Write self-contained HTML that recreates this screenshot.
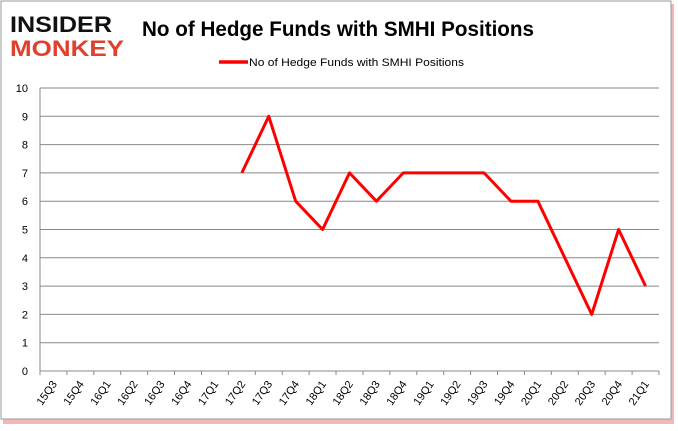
<!DOCTYPE html>
<html><head><meta charset="utf-8"><style>
body{margin:0;background:#fff;font-family:"Liberation Sans",sans-serif;}
svg{display:block}
</style></head><body>
<svg width="678" height="431" xmlns="http://www.w3.org/2000/svg">
<rect x="0" y="0" width="678" height="431" fill="#fff"/>
<rect x="3" y="4" width="671" height="420" fill="#f2b8b8"/>
<rect x="1" y="1" width="670" height="418" fill="#fff" stroke="#999"/>
<g font-family="Liberation Sans, sans-serif" font-weight="bold">
<text x="10" y="32" font-size="22" fill="#111" textLength="102" lengthAdjust="spacingAndGlyphs">INSIDER</text>
<text x="10" y="56" font-size="22" fill="#e0402e" textLength="114" lengthAdjust="spacingAndGlyphs">MONKEY</text>
</g>
<text x="142" y="36" font-size="21" font-weight="bold" fill="#000" textLength="392" lengthAdjust="spacingAndGlyphs">No of Hedge Funds with SMHI Positions</text>
<g>
<line x1="219" y1="62" x2="248" y2="62" stroke="#f00" stroke-width="3.5"/>
<text x="249" y="66" font-size="11" fill="#000" textLength="215" lengthAdjust="spacingAndGlyphs">No of Hedge Funds with SMHI Positions</text>
</g>
<g id="grid"></g><g id="axes"></g><g id="series"></g>
</svg>
<script>
const categories=["15Q3","15Q4","16Q1","16Q2","16Q3","16Q4","17Q1","17Q2","17Q3","17Q4","18Q1","18Q2","18Q3","18Q4","19Q1","19Q2","19Q3","19Q4","20Q1","20Q2","20Q3","20Q4","21Q1"];
const values=[null,null,null,null,null,null,null,7,9,6,5,7,6,7,7,7,7,6,6,4,2,5,3];
const yTicks=[0,1,2,3,4,5,6,7,8,9,10];
const NS="http://www.w3.org/2000/svg";
const L=40,R=659,T=88,B=371;
const bw=(R-L)/categories.length;
function xs(i){return L+(i+0.5)*bw;}
function ys(v){return B-(v/10)*(B-T);}
function mk(tag,a,p){const e=document.createElementNS(NS,tag);for(const k in a)e.setAttribute(k,a[k]);p.appendChild(e);return e;}
const grid=document.getElementById('grid'),axes=document.getElementById('axes'),ser=document.getElementById('series');
yTicks.forEach(t=>{
 const g=mk('line',{x1:L,x2:R,y1:ys(t),y2:ys(t),stroke:'#888','stroke-width':1},grid);
 
 
 const tx=mk('text',{x:L-12,y:ys(t)+4,'font-size':11,'text-anchor':'end',fill:'#000'},axes);
 tx.textContent=t;
 
 
});
const ya=mk('line',{x1:L,x2:L,y1:T,y2:B,stroke:'#888'},axes);


for(let i=0;i<=categories.length;i++){mk('line',{x1:L+i*bw,x2:L+i*bw,y1:B,y2:B+4,stroke:'#888'},axes);}
categories.forEach((c,i)=>{
 const x=xs(i)+4,y=B+13;
 const tx=mk('text',{x:x,y:y,'font-size':11,'text-anchor':'end',fill:'#000',transform:`rotate(-55 ${x} ${y})`},axes);
 tx.textContent=c;
 
 
});
let d='';values.forEach((v,i)=>{if(v==null)return;d+=(d?'L':'M')+xs(i)+' '+ys(v)+' ';});
const p=mk('path',{d:d,fill:'none',stroke:'#f00','stroke-width':3,'stroke-linejoin':'round'},ser);


</script>
</body></html>
